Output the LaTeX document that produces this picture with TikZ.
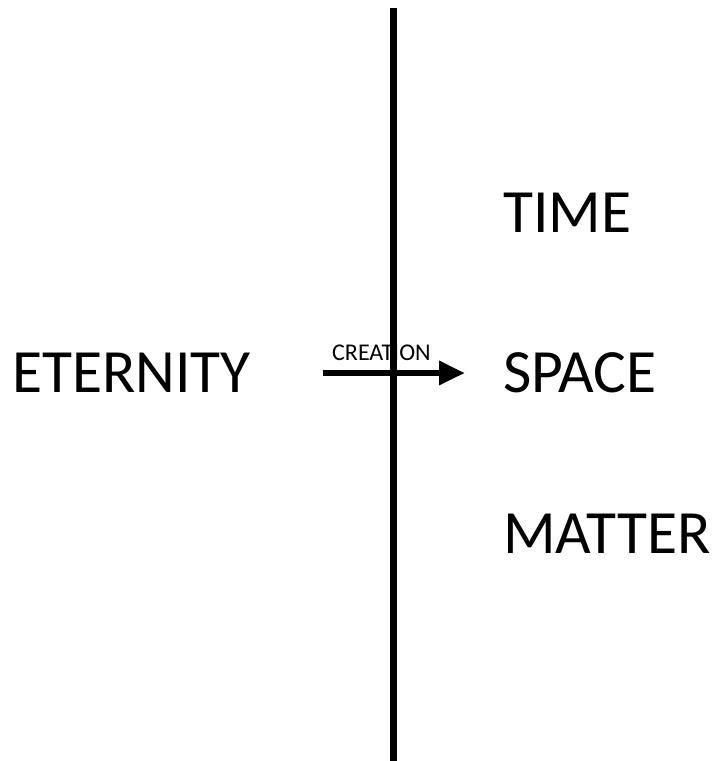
\documentclass[tikz,border=0pt]{standalone}
\usepackage{fontspec}
\setmainfont{Carlito}
\usetikzlibrary{arrows.meta}
\begin{document}
\begin{tikzpicture}[x=1pt,y=-1pt,
  big/.style={anchor=base west,inner sep=0pt,font=\fontsize{61.5}{61.5}\selectfont},
  small/.style={anchor=base west,inner sep=0pt,font=\fontsize{24}{24}\selectfont}]
\useasboundingbox (0,0) rectangle (715,761);
\node[big] (eternity) at (12,392) {ETERNITY};
\node[big] (time) at (503,232) {TIME};
\node[big] (space) at (503,392) {SPACE};
\node[big] (matter) at (503,553) {MATTER};
\node[small] (creation) at (332,360) {CREATION};
\coordinate (top) at (393,8);
\coordinate (bot) at (393,761);
\coordinate (astart) at (323,373);
\coordinate (aend) at (465,373);
\draw[line width=7pt] (top) -- (bot);
\draw[line width=6.5pt,-{Triangle[length=26pt,width=23pt]}] (astart) -- (aend);
\end{tikzpicture}
\end{document}
